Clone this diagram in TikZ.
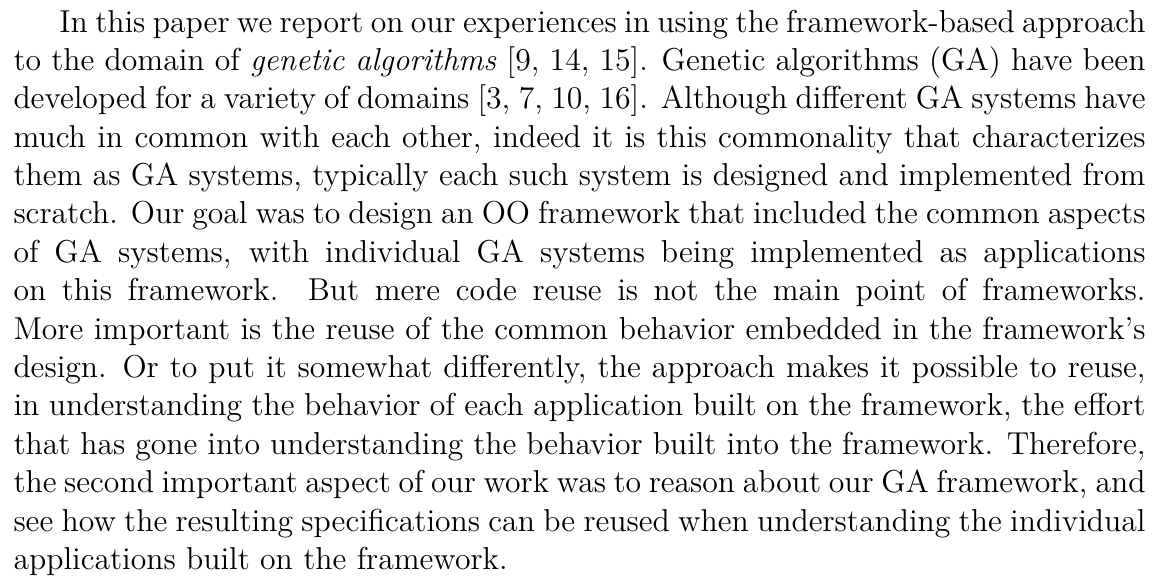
\documentclass[tikz,border=0pt]{standalone}
\usepackage{fontspec}
\tikzset{para/.style={anchor=base west, inner sep=0pt, text width=448.3pt, align=justify, font=\fontsize{12.55}{15.2}\selectfont}}
\begin{document}
\begin{tikzpicture}[x=1pt,y=1pt]
\fill[white] (0,0) rectangle (457.4,-229.3);
\useasboundingbox (0,0) rectangle (457.4,-229.3);
\node[para] (txt) at (5.15,-12.7) {\hspace*{18.2pt}In this paper we report on our experiences in using the framework-based approach\linebreak
to the domain of \emph{genetic algorithms} [9, 14, 15]. Genetic algorithms (GA) have been\linebreak
developed for a variety of domains [3, 7, 10, 16]. Although different GA systems have\linebreak
much in common with each other, indeed it is this commonality that characterizes\linebreak
them as GA systems, typically each such system is designed and implemented from\linebreak
scratch. Our goal was to design an OO framework that included the common aspects\linebreak
of GA systems, with individual GA systems being implemented as applications\linebreak
on this framework. But mere code reuse is not the main point of frameworks.\linebreak
More important is the reuse of the common behavior embedded in the framework's\linebreak
design. Or to put it somewhat differently, the approach makes it possible to reuse,\linebreak
in understanding the behavior of each application built on the framework, the effort\linebreak
that has gone into understanding the behavior built into the framework. Therefore,\linebreak
the second important aspect of our work was to reason about our GA framework, and\linebreak
see how the resulting specifications can be reused when understanding the individual\linebreak
applications built on the framework.};
\end{tikzpicture}
\end{document}
